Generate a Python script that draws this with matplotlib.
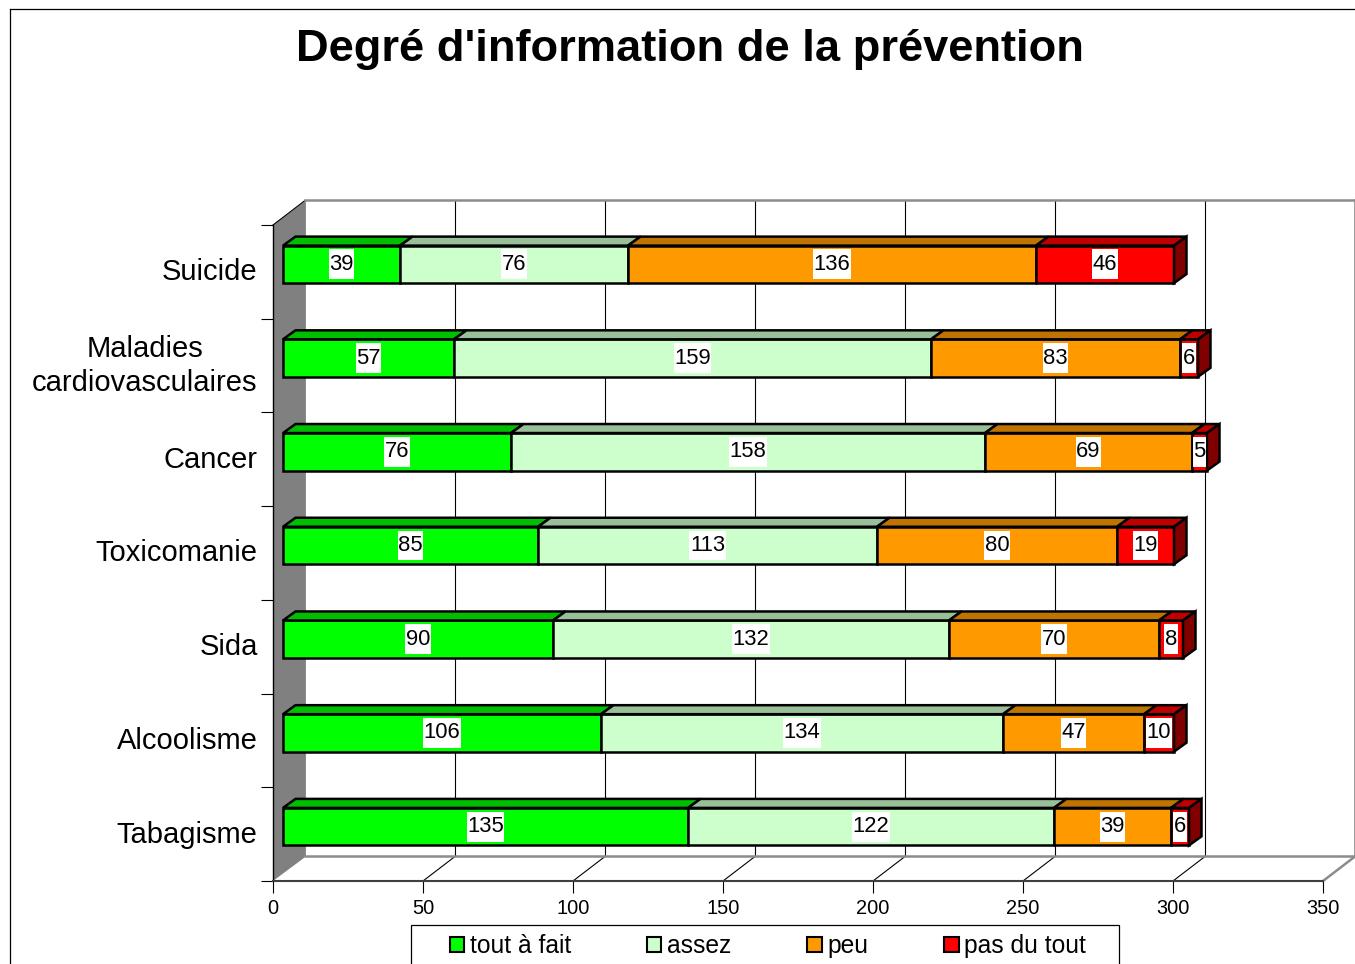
import matplotlib
matplotlib.use("Agg")
import matplotlib.pyplot as plt
from matplotlib.lines import Line2D
from matplotlib.patches import Patch, Polygon, Rectangle
from matplotlib.path import Path

plt.rcParams['font.family'] = ['Liberation Sans', 'DejaVu Sans']

W, H = 1355, 964

categories = ["Tabagisme", "Alcoolisme", "Sida", "Toxicomanie", "Cancer",
              "Maladies\ncardiovasculaires", "Suicide"]
series_names = ["tout à fait", "assez", "peu", "pas du tout"]
tout_a_fait = [135, 106, 90, 85, 76, 57, 39]
assez = [122, 134, 132, 113, 158, 159, 76]
peu = [39, 47, 70, 80, 69, 83, 136]
pas_du_tout = [6, 10, 8, 19, 5, 6, 46]
x_ticks = [0, 50, 100, 150, 200, 250, 300, 350]

front_colors = ["#00FF00", "#CCFFCC", "#FF9900", "#FF0000"]
top_colors = ["#00BF00", "#99BF99", "#BF7300", "#BF0000"]
side_color = "#800000"

# depth of the fake 3d box, in data units (3 px per unit, 93.7 px per band)
WALL_DX = 32 / 3
WALL_DY = 24.5 / 93.7
BAR_X0 = 10 / 3
BAR_Y0 = 7.5 / 93.7
BAR_H = 0.4
BAR_DX = 12.5 / 3
BAR_DY = 9 / 93.7
BAR_LW = 1.8


def labelBox(x0, y0, width, height, mutation_size):
    # white box behind the value: tight in x, tall in y
    cy = y0 + height / 2
    half = mutation_size * 0.68
    x0 -= mutation_size * 0.02
    x1 = x0 + width + mutation_size * 0.04
    return Path([(x0, cy - half), (x1, cy - half), (x1, cy + half), (x0, cy + half), (x0, cy - half)],
                closed=True)


def main():
    fig = plt.figure(figsize=(W / 100, H / 100), dpi=100)
    ax = fig.add_axes([273 / W, 1 - 881 / H, 1050 / W, 656 / H])
    ax.set_xlim(0, 350)
    ax.set_ylim(-0.5, 6.5)

    drawWalls(ax)
    drawBars(ax)

    ax.spines['top'].set_visible(False)
    ax.spines['right'].set_visible(False)
    ax.spines['left'].set_linewidth(1)
    ax.spines['bottom'].set_color("#404040")
    ax.spines['bottom'].set_linewidth(1.5)
    ax.set_zorder(2)

    ax.set_xticks(x_ticks)
    ax.tick_params(axis='x', length=8.6, width=0.8, labelsize=14.4, pad=4)
    ax.set_yticks([i - 0.5 for i in range(len(categories) + 1)])
    ax.set_yticklabels([])
    # labels sit a little above the middle of each band, the two line one more so
    label_pos = [i + (0.06 if "\n" in c else 0.027) for i, c in enumerate(categories)]
    ax.set_yticks(label_pos, minor=True)
    ax.set_yticklabels(categories, minor=True, fontsize=21, ha='right',
                       multialignment='center', linespacing=1.27)
    ax.tick_params(axis='y', which='major', length=8.6, width=0.8)
    ax.tick_params(axis='y', which='minor', length=0, pad=11)

    fig.text(690 / W, 1 - 50 / H, "Degré d'information de la prévention",
             fontsize=32.6, fontweight='bold', ha='center', va='center')

    # outer frame of the page, only left and top are visible
    fig.add_artist(Line2D([10 / W, 10 / W], [0, 1 - 9 / H], color="black", lw=0.9))
    fig.add_artist(Line2D([10 / W, 1], [1 - 9 / H, 1 - 9 / H], color="black", lw=0.9))

    # legend box runs off the bottom of the page
    fig.add_artist(Rectangle((411 / W, -0.05), 708 / W, 0.05 + 39 / H,
                             transform=fig.transFigure, facecolor="white",
                             edgecolor="black", lw=0.9))
    handles = [Patch(facecolor=c, edgecolor="black", lw=1.5) for c in front_colors]
    fig.legend(handles, series_names, ncol=4, frameon=False, fontsize=17.7,
               loc='center left', bbox_to_anchor=(450 / W, 1 - 946 / H),
               handlelength=0.58, handleheight=0.58, handletextpad=0.22,
               columnspacing=3.1, borderpad=0, borderaxespad=0)

    fig.savefig("out.png", dpi=100)


def drawWalls(ax):
    lo, hi = ax.get_ylim()
    top = hi + WALL_DY
    floor = lo + WALL_DY
    xmax = ax.get_xlim()[1]

    ax.add_patch(Polygon([(0, hi), (WALL_DX + 0.3, top), (WALL_DX + 0.3, floor), (0, lo)],
                         closed=True, facecolor="#808080", edgecolor="none",
                         clip_on=False, zorder=1))
    ax.plot([0, WALL_DX], [hi, top], color="black", lw=0.8, clip_on=False, zorder=1)

    for v in x_ticks:
        if 0 < v < xmax:
            ax.plot([v + WALL_DX] * 2, [floor, top], color="black", lw=0.8,
                    clip_on=False, zorder=1)
            ax.plot([v, v + WALL_DX], [lo, floor], color="black", lw=0.8,
                    clip_on=False, zorder=1)

    grey = "#8C8C8C"
    ax.plot([WALL_DX, xmax + WALL_DX], [top, top], color=grey, lw=1.8, clip_on=False, zorder=1)
    ax.plot([WALL_DX, xmax + WALL_DX], [floor, floor], color=grey, lw=1.8, clip_on=False, zorder=1)
    ax.plot([xmax + WALL_DX] * 2, [floor, top], color=grey, lw=1.2, clip_on=False, zorder=1)
    ax.plot([xmax, xmax + WALL_DX], [lo, floor], color=grey, lw=1.8, clip_on=False, zorder=1)


def drawBars(ax):
    series = [tout_a_fait, assez, peu, pas_du_tout]
    for i in range(len(categories)):
        y0 = i + BAR_Y0 - BAR_H / 2
        y1 = i + BAR_Y0 + BAR_H / 2
        left = BAR_X0
        for s, values in enumerate(series):
            v = values[i]
            ax.barh(i + BAR_Y0, v, height=BAR_H, left=left, color=front_colors[s],
                    edgecolor="black", linewidth=BAR_LW, zorder=3)
            ax.add_patch(Polygon([(left, y1), (left + v, y1),
                                  (left + v + BAR_DX, y1 + BAR_DY), (left + BAR_DX, y1 + BAR_DY)],
                                 closed=True, facecolor=top_colors[s], edgecolor="black",
                                 linewidth=BAR_LW, joinstyle='miter', zorder=3))
            ax.text(left + v / 2, i + BAR_Y0, str(v), fontsize=15.8, ha='center', va='center',
                    zorder=5, bbox=dict(boxstyle=labelBox, facecolor="white", edgecolor="none"))
            left += v
        ax.add_patch(Polygon([(left, y0), (left + BAR_DX, y0 + BAR_DY),
                              (left + BAR_DX, y1 + BAR_DY), (left, y1)],
                             closed=True, facecolor=side_color, edgecolor="black",
                             linewidth=BAR_LW, joinstyle='miter', zorder=3))


if __name__ == '__main__':
    main()
